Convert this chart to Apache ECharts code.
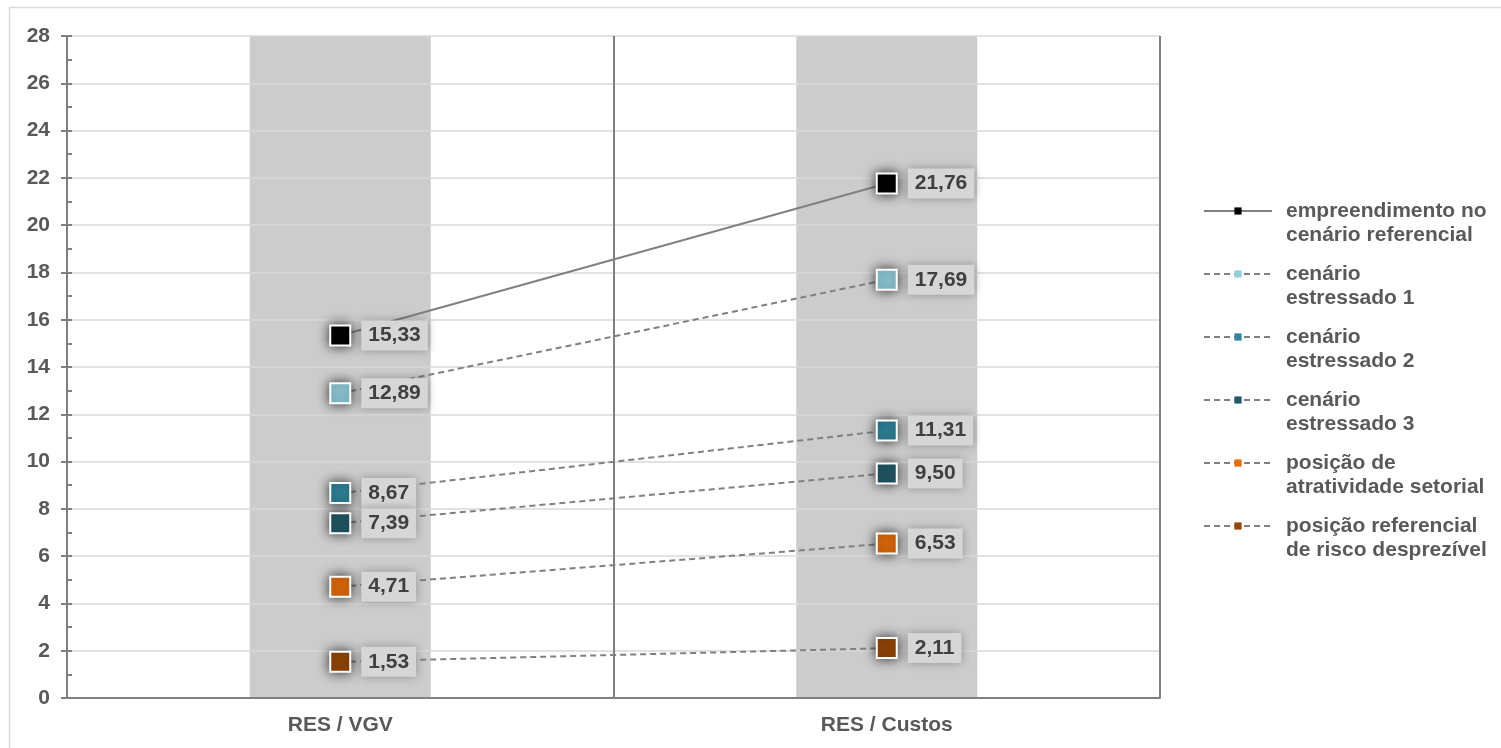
<!DOCTYPE html>
<html>
<head>
<meta charset="utf-8">
<script src="https://cdn.jsdelivr.net/npm/echarts@6/dist/echarts.min.js"></script>
<style>html,body{margin:0;padding:0;background:#fff;}#c{width:1501px;height:748px;}</style>
</head>
<body>
<div id="c"></div>
<script>
const categories = ['RES / VGV', 'RES / Custos'];
const seriesNames = [
  'empreendimento no\ncenário referencial',
  'cenário\nestressado 1',
  'cenário\nestressado 2',
  'cenário\nestressado 3',
  'posição de\natratividade setorial',
  'posição referencial\nde risco desprezível'
];
const refValues = [15.33, 21.76];
const stress1Values = [12.89, 17.69];
const stress2Values = [8.67, 11.31];
const stress3Values = [7.39, 9.50];
const attractValues = [4.71, 6.53];
const riskValues = [1.53, 2.11];
const bandValues = [28, 28];
const seriesColors = ['#000000', '#92cddc', '#31859c', '#215967', '#e46c0a', '#974706'];
const lineTypes = ['solid', [6, 4], [6, 4], [6, 4], [6, 4], [6, 4]];
const allValues = [refValues, stress1Values, stress2Values, stress3Values, attractValues, riskValues];

const font = '"Liberation Sans", Arial, sans-serif';

const lineSeries = allValues.map((vals, i) => ({
  name: seriesNames[i],
  type: 'line',
  data: vals,
  symbol: 'rect',
  symbolSize: 20,
  z: 3 + i,
  itemStyle: {
    color: seriesColors[i],
    borderColor: '#ffffff',
    borderWidth: 2,
    shadowBlur: 12,
    shadowColor: 'rgba(0,0,0,0.75)'
  },
  lineStyle: { color: '#808080', width: 2, type: lineTypes[i] },
  label: {
    show: true,
    position: 'right',
    distance: 10,
    fontFamily: font,
    fontSize: 21,
    fontWeight: 'bold',
    color: '#404040',
    backgroundColor: '#d6d6d6',
    padding: [5, 7, 4, 7],
    shadowBlur: 10,
    shadowColor: 'rgba(0,0,0,0.3)',
    formatter: p => p.value.toFixed(2).replace('.', ',')
  },
  emphasis: { disabled: true }
}));

const chart = echarts.init(document.getElementById('c'));
chart.setOption({
  animation: false,
  backgroundColor: '#ffffff',
  graphic: [{
    type: 'rect',
    shape: { x: 9.5, y: 7.5, width: 1600, height: 800 },
    style: { fill: 'none', stroke: '#dcdcdc', lineWidth: 1.5 },
    silent: true,
    z: -10
  }],
  grid: { left: 67, right: 341, top: 36, bottom: 50, containLabel: false },
  legend: {
    orient: 'vertical',
    left: 1203,
    top: 175,
    padding: 0,
    itemWidth: 68,
    itemHeight: 9,
    itemGap: -9,
    data: seriesNames,
    formatter: name => '\n' + name,
    textStyle: {
      fontFamily: font,
      fontSize: 21,
      fontWeight: 'bold',
      color: '#595959',
      lineHeight: 24,
      padding: [0, 0, 0, 9]
    },
    itemStyle: { borderWidth: 0, shadowBlur: 0 },
    lineStyle: { width: 2 }
  },
  xAxis: {
    type: 'category',
    data: categories,
    boundaryGap: true,
    axisLine: { show: true, lineStyle: { color: '#808080', width: 2 } },
    axisTick: { show: false },
    splitLine: { show: true, lineStyle: { color: '#808080', width: 2 } },
    axisLabel: {
      margin: 17,
      fontFamily: font,
      fontSize: 21,
      fontWeight: 'bold',
      color: '#595959'
    }
  },
  yAxis: [{
    type: 'value',
    min: 0,
    max: 28,
    interval: 2,
    position: 'left',
    axisLine: { show: true, lineStyle: { color: '#808080', width: 2 } },
    axisTick: { show: true, inside: false, length: 6, lineStyle: { color: '#808080', width: 2 } },
    splitLine: { show: true, lineStyle: { color: '#d9d9d9', width: 1.5 } },
    axisLabel: {
      margin: 17,
      fontFamily: font,
      fontSize: 21,
      fontWeight: 'bold',
      color: '#595959'
    }
  }, {
    type: 'value',
    min: 0,
    max: 28,
    interval: 1,
    position: 'left',
    axisLine: { show: false },
    axisTick: { show: true, inside: true, length: 5, lineStyle: { color: '#808080', width: 2 } },
    splitLine: { show: false },
    axisLabel: { show: false }
  }],
  series: [{
    type: 'bar',
    data: bandValues,
    barWidth: 181,
    silent: true,
    z: -1,
    itemStyle: { color: '#cccccc' },
    emphasis: { disabled: true }
  }].concat(lineSeries)
});
</script>
</body>
</html>
